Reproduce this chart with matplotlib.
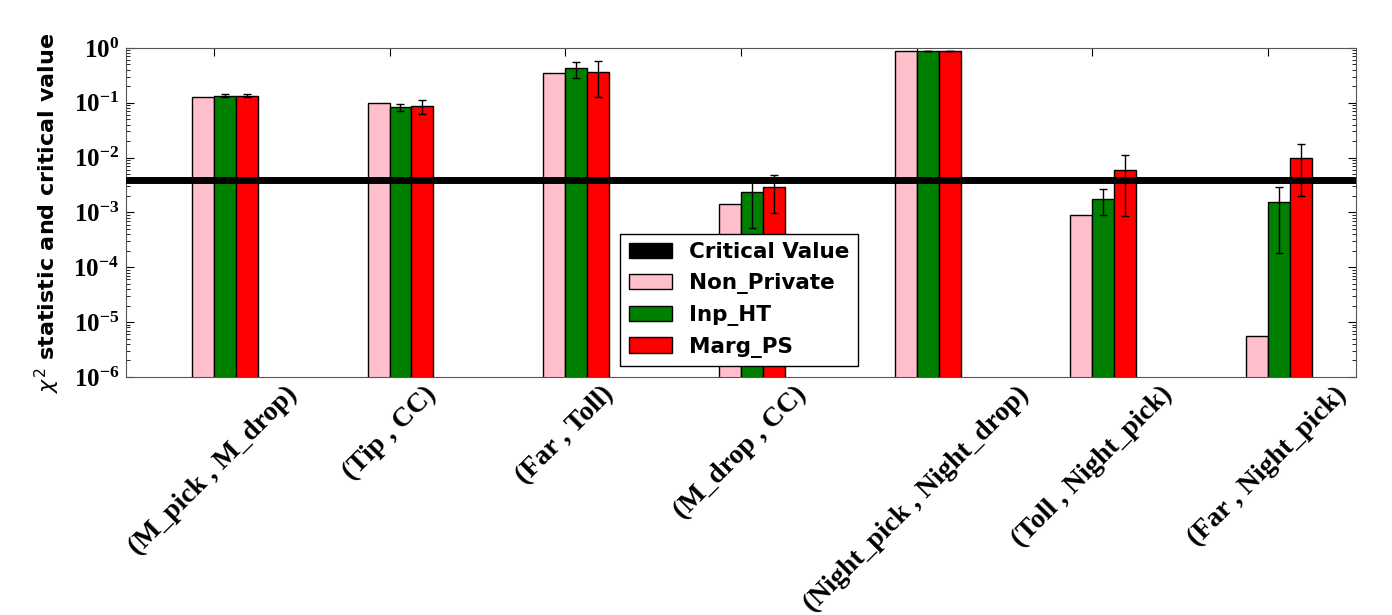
import numpy as np
import matplotlib
matplotlib.use("Agg")
import matplotlib.pyplot as plt
from matplotlib.patches import Patch

# feature pairs tested for independence
pairs = ["(M_pick , M_drop)", "(Tip , CC)", "(Far , Toll)", "(M_drop , CC)",
         "(Night_pick , Night_drop)", "(Toll , Night_pick)", "(Far , Night_pick)"]

critical_value = 0.0039

non_private = [0.129, 0.098, 0.345, 0.00145, 0.88, 0.0009, 0.0000055]
inp_ht = [0.135, 0.084, 0.426, 0.00233, 0.885, 0.00176, 0.00153]
inp_ht_err = [0.008, 0.012, 0.14, 0.0018, 0.005, 0.00087, 0.00135]
marg_ps = [0.135, 0.0875, 0.36, 0.00292, 0.885, 0.00596, 0.0100]
marg_ps_err = [0.008, 0.025, 0.23, 0.00195, 0.005, 0.0051, 0.008]

ind = np.arange(len(pairs))
width = 0.125

fig = plt.figure(figsize=(13.92, 6.15), dpi=100)
ax = fig.add_subplot(111)
fig.subplots_adjust(left=0.0905, right=0.974, top=0.922, bottom=0.387)

ax.axhline(critical_value, color="black", linewidth=5, zorder=3)

ekw = dict(ecolor="black", elinewidth=1, capsize=3, capthick=1)
ax.bar(ind, non_private, width, align="edge", color="pink",
       edgecolor="black", linewidth=1, zorder=2)
ax.bar(ind + width, inp_ht, width, align="edge", color="green",
       edgecolor="black", linewidth=1, yerr=inp_ht_err, error_kw=ekw, zorder=2)
ax.bar(ind + 2 * width, marg_ps, width, align="edge", color="red",
       edgecolor="black", linewidth=1, yerr=marg_ps_err, error_kw=ekw, zorder=2)

ax.set_yscale("log")
ax.set_ylim(1e-6, 1.0)
ax.set_xlim(-0.375, 6.625)

ax.set_xticks(ind + width)
ax.set_xticklabels(pairs, rotation=45, fontsize=20, fontweight="bold",
                   family="Liberation Serif")
ax.tick_params(axis="y", labelsize=18, pad=5)
ax.tick_params(direction="in", top=True, right=True, which="both")
ax.tick_params(which="major", length=6)
ax.tick_params(which="minor", length=3)

ax.set_ylabel(r"$\chi^2$ statistic and critical value", fontsize=16,
              fontweight="bold")
ax.yaxis.set_label_coords(-0.052, 0.5)

for s in ax.spines.values():
    s.set_color("#555555")

handles = [Patch(facecolor="black", edgecolor="black"),
           Patch(facecolor="pink", edgecolor="black"),
           Patch(facecolor="green", edgecolor="black"),
           Patch(facecolor="red", edgecolor="black")]
labels = ["Critical Value", "Non_Private", "Inp_HT", "Marg_PS"]
leg = ax.legend(handles, labels, loc="lower left", bbox_to_anchor=(0.402, 0.033),
                borderaxespad=0, fancybox=False, framealpha=1,
                prop=dict(weight="bold", size=15.5))
leg.get_frame().set_edgecolor("black")
leg.set_zorder(5)

# make y tick labels serif bold after the formatter has run
fig.canvas.draw()
for lab in ax.get_yticklabels():
    lab.set_family("Liberation Serif")
    lab.set_fontweight("bold")

fig.savefig("out.png", dpi=100)
